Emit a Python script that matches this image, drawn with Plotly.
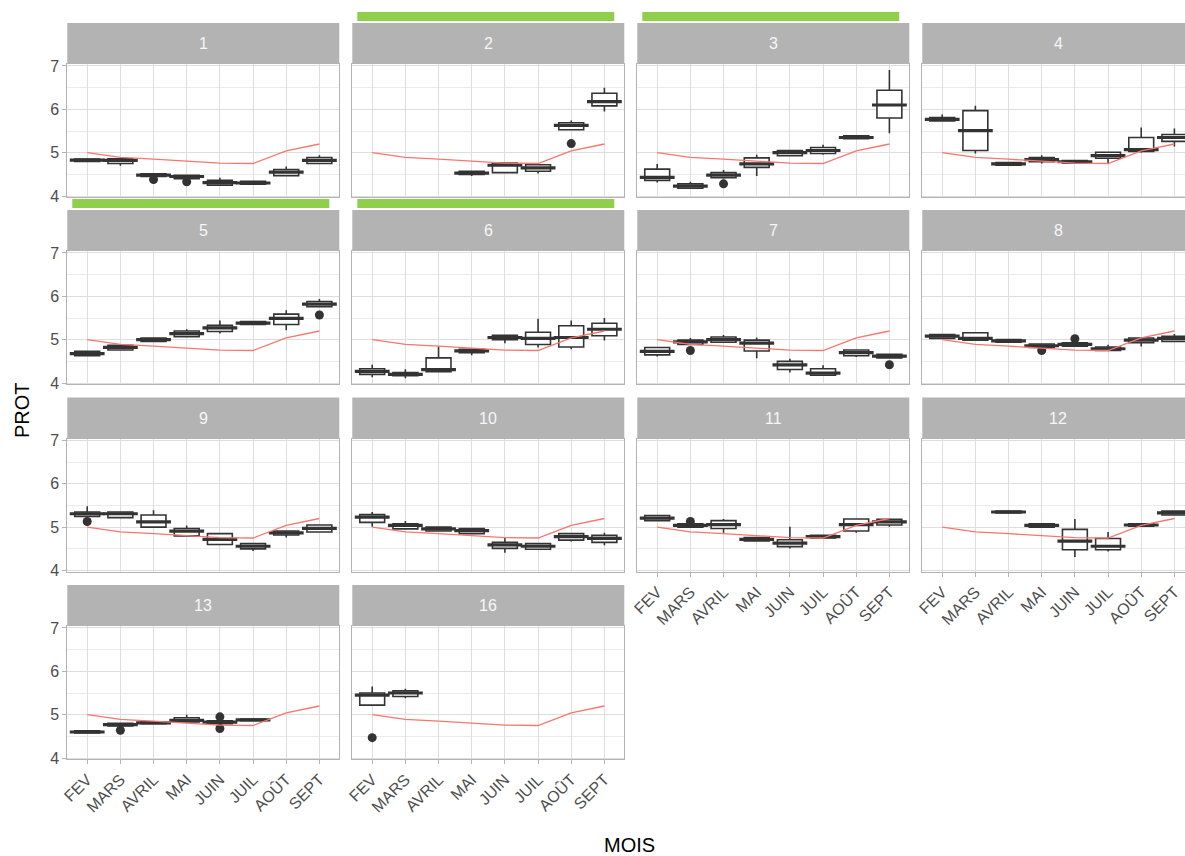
import plotly.graph_objects as go

# ---------------------------------------------------------------- data
MONTHS = ["FEV", "MARS", "AVRIL", "MAI", "JUIN", "JUIL", "AOÛT", "SEPT"]
PANELS = ["1", "2", "3", "4", "5", "6", "7", "8", "9", "10", "11", "12", "13", "16"]

# reference curve drawn in every panel
REF = [5.00, 4.89, 4.85, 4.81, 4.76, 4.75, 5.04, 5.20]

N = None
# box statistics per panel, one value per month (None = no sample)
LOWER = [
    [4.79, 4.70, 4.43, 4.38, 4.23, 4.26, 4.46, 4.74],
    [N, N, N, 4.46, 4.53, 4.52, 5.52, 5.95],
    [4.31, 4.17, 4.40, 4.46, 4.92, 4.95, 5.31, 5.45],
    [5.72, 4.98, 4.70, 4.75, 4.75, 4.74, 5.00, 5.14],
    [4.62, 4.75, 4.95, 5.06, 5.14, 5.34, 5.22, 5.75],
    [4.13, 4.11, 4.25, 4.64, 4.92, 4.82, 4.78, 4.98],
    [4.61, 4.88, 4.93, 4.57, 4.24, 4.17, 4.60, 4.57],
    [5.02, 4.97, 4.93, 4.80, 4.84, 4.74, 4.84, 4.95],
    [5.24, 5.21, 4.99, 4.79, 4.59, 4.45, 4.76, 4.88],
    [5.01, 4.95, 4.90, 4.84, 4.41, 4.48, 4.67, 4.58],
    [5.14, 4.99, 4.87, 4.67, 4.51, 4.74, 4.87, 5.01],
    [N, N, 5.33, 4.99, 4.31, 4.44, 5.01, 5.27],
    [4.57, 4.73, 4.79, 4.82, 4.78, 4.85, N, N],
    [5.20, 5.38, N, N, N, N, N, N],
]
Q1 = [
    [4.80, 4.75, 4.45, 4.40, 4.25, 4.27, 4.47, 4.75],
    [N, N, N, 4.50, 4.54, 4.57, 5.53, 6.08],
    [4.36, 4.18, 4.42, 4.66, 4.93, 4.98, 5.32, 5.80],
    [5.73, 5.05, 4.71, 4.79, 4.76, 4.87, 5.03, 5.26],
    [4.63, 4.76, 4.96, 5.07, 5.19, 5.35, 5.35, 5.76],
    [4.20, 4.17, 4.26, 4.70, 5.00, 4.89, 4.83, 5.09],
    [4.65, 4.89, 4.94, 4.74, 4.31, 4.18, 4.63, 4.58],
    [5.03, 4.99, 4.94, 4.82, 4.85, 4.75, 4.93, 4.96],
    [5.25, 5.22, 5.00, 4.80, 4.60, 4.50, 4.82, 4.89],
    [5.11, 4.96, 4.91, 4.85, 4.51, 4.49, 4.70, 4.65],
    [5.15, 5.00, 4.97, 4.68, 4.55, 4.75, 4.91, 5.05],
    [N, N, 5.33, 5.00, 4.48, 4.48, 5.02, 5.28],
    [4.58, 4.74, 4.79, 4.83, 4.79, 4.86, N, N],
    [5.22, 5.42, N, N, N, N, N, N],
]
MEDIAN = [
    [4.83, 4.82, 4.48, 4.45, 4.31, 4.30, 4.55, 4.82],
    [N, N, N, 4.53, 4.71, 4.65, 5.63, 6.18],
    [4.43, 4.23, 4.48, 4.74, 5.00, 5.05, 5.35, 6.10],
    [5.77, 5.51, 4.74, 4.84, 4.79, 4.93, 5.07, 5.35],
    [4.68, 4.82, 5.00, 5.14, 5.27, 5.38, 5.49, 5.82],
    [4.27, 4.20, 4.31, 4.74, 5.05, 5.03, 5.05, 5.24],
    [4.73, 4.95, 5.00, 4.92, 4.42, 4.23, 4.70, 4.62],
    [5.08, 5.03, 4.97, 4.86, 4.89, 4.79, 4.99, 5.03],
    [5.31, 5.31, 5.12, 4.91, 4.72, 4.56, 4.87, 4.97],
    [5.23, 5.04, 4.96, 4.92, 4.59, 4.56, 4.78, 4.74],
    [5.21, 5.04, 5.06, 4.72, 4.63, 4.78, 5.06, 5.12],
    [N, N, 5.35, 5.04, 4.68, 4.56, 5.05, 5.33],
    [4.60, 4.77, 4.81, 4.87, 4.83, 4.88, N, N],
    [5.45, 5.50, N, N, N, N, N, N],
]
Q3 = [
    [4.85, 4.86, 4.51, 4.48, 4.36, 4.34, 4.61, 4.89],
    [N, N, N, 4.57, 4.76, 4.72, 5.69, 6.37],
    [4.62, 4.28, 4.54, 4.88, 5.05, 5.12, 5.39, 6.44],
    [5.81, 5.97, 4.77, 4.89, 4.82, 5.01, 5.35, 5.42],
    [4.73, 4.87, 5.04, 5.20, 5.33, 5.42, 5.59, 5.88],
    [4.33, 4.24, 4.58, 4.78, 5.10, 5.17, 5.32, 5.38],
    [4.82, 4.99, 5.06, 4.99, 4.50, 4.33, 4.76, 4.66],
    [5.12, 5.16, 5.00, 4.90, 4.93, 4.83, 5.04, 5.08],
    [5.35, 5.35, 5.28, 4.97, 4.85, 4.62, 4.91, 5.05],
    [5.29, 5.08, 5.00, 4.97, 4.65, 4.62, 4.85, 4.81],
    [5.27, 5.08, 5.15, 4.76, 4.71, 4.81, 5.19, 5.18],
    [N, N, 5.37, 5.08, 4.95, 4.74, 5.08, 5.37],
    [4.63, 4.80, 4.83, 4.93, 4.86, 4.90, N, N],
    [5.50, 5.55, N, N, N, N, N, N],
]
UPPER = [
    [4.86, 4.88, 4.52, 4.49, 4.42, 4.35, 4.68, 4.94],
    [N, N, N, 4.58, 4.78, 4.75, 5.74, 6.50],
    [4.74, 4.33, 4.60, 4.95, 5.06, 5.18, 5.40, 6.91],
    [5.88, 6.08, 4.78, 4.94, 4.83, 5.02, 5.58, 5.56],
    [4.75, 4.88, 5.05, 5.24, 5.44, 5.43, 5.68, 5.94],
    [4.42, 4.32, 4.84, 4.79, 5.11, 5.48, 5.44, 5.50],
    [4.83, 5.04, 5.11, 5.05, 4.56, 4.41, 4.77, 4.67],
    [5.13, 5.17, 5.01, 4.91, 4.95, 4.88, 5.05, 5.13],
    [5.48, 5.37, 5.39, 5.04, 4.86, 4.63, 4.92, 5.06],
    [5.35, 5.14, 5.02, 4.98, 4.75, 4.63, 4.86, 4.87],
    [5.28, 5.09, 5.19, 4.77, 5.01, 4.82, 5.20, 5.19],
    [N, N, 5.37, 5.08, 5.19, 4.89, 5.09, 5.38],
    [4.64, 4.81, 4.84, 5.00, 4.88, 4.91, N, N],
    [5.65, 5.60, N, N, N, N, N, N],
]

# outlying observations: panel label, month, value
OUT_PANEL = ["1", "1", "2", "3", "5", "7", "7", "8", "8", "9", "11", "13", "13", "13", "16"]
OUT_MONTH = ["AVRIL", "MAI", "AOÛT", "AVRIL", "SEPT", "MARS", "SEPT", "MAI", "JUIN", "FEV",
             "MARS", "MARS", "JUIN", "JUIN", "FEV"]
OUT_VALUE = [4.38, 4.33, 5.21, 4.28, 5.57, 4.75, 4.42, 4.75, 5.02, 5.13,
             5.13, 4.64, 4.95, 4.68, 4.47]

# highlighted facets (bar drawn above the strip)
HIGHLIGHT = ["2", "3", "5", "6"]

# ---------------------------------------------------------------- layout
W, H = 1185, 856
COL_X = [67.3, 352.3, 637.3, 922.3]
PANEL_W = 272.0
ROW_Y = [23.0, 210.0, 397.5, 585.0]
STRIP_H = 41.0
PANEL_H = 133.0
PX_PER_CAT = PANEL_W / 8.2
Y_RANGE = [3.977, 7.046]

BOX_LINE = "#333333"
GRID = "#DEDEDE"
BORDER = "#B3B3B3"
TEXT = "#4D4D4D"
FONT = "Liberation Sans, Arial, sans-serif"
GREEN = "#8FCF4C"


def px_x(v):
    return v / W


def px_y(v):
    return 1 - v / H


fig = go.Figure()
layout = {}
shapes = []
annotations = []

bottom_panels = {"11", "12", "13", "16"}

for i, label in enumerate(PANELS):
    r, c = divmod(i, 4)
    x0 = COL_X[c]
    x1 = min(x0 + PANEL_W, W)
    s0 = ROW_Y[r]
    p0 = s0 + STRIP_H
    p1 = p0 + PANEL_H
    suffix = "" if i == 0 else str(i + 1)
    xa, ya = "x" + suffix, "y" + suffix

    xr = [-0.6, -0.6 + (x1 - x0) / PX_PER_CAT]
    show_x = label in bottom_panels
    show_y = c == 0

    layout["xaxis" + suffix] = dict(
        domain=[px_x(x0), px_x(x1)], anchor=ya, type="category",
        categoryorder="array", categoryarray=MONTHS, range=xr,
        automargin=False,
        showgrid=True, gridcolor=GRID, gridwidth=1,
        showline=True, mirror=True, linecolor=BORDER, linewidth=1,
        ticks="outside" if show_x else "", ticklen=4, tickcolor=BORDER,
        showticklabels=show_x, tickangle=-45,
        tickfont=dict(family=FONT, size=16, color=TEXT),
        zeroline=False, fixedrange=True,
    )
    layout["yaxis" + suffix] = dict(
        domain=[px_y(p1), px_y(p0)], anchor=xa, range=Y_RANGE,
        automargin=False,
        tickmode="linear", tick0=4, dtick=1,
        showgrid=True, gridcolor=GRID, gridwidth=1,
        minor=dict(dtick=0.5, tick0=4, showgrid=True, gridcolor="#EBEBEB", gridwidth=0.6),
        showline=True, mirror=True, linecolor=BORDER, linewidth=1,
        ticks="outside" if show_y else "", ticklen=4, tickcolor=BORDER,
        showticklabels=show_y,
        tickfont=dict(family=FONT, size=16, color=TEXT),
        zeroline=False, fixedrange=True,
    )

    # strip
    shapes.append(dict(type="rect", xref="paper", yref="paper",
                       x0=px_x(x0), x1=px_x(x1), y0=px_y(p0), y1=px_y(s0),
                       fillcolor="#B3B3B3", line=dict(width=0), layer="below"))
    annotations.append(dict(xref="paper", yref="paper",
                            x=px_x(x0 + PANEL_W / 2), y=px_y(s0 + STRIP_H / 2),
                            text=label, showarrow=False,
                            font=dict(family=FONT, size=16, color="#F7F7F7"),
                            xanchor="center", yanchor="middle"))
    if label in HIGHLIGHT:
        shapes.append(dict(type="rect", xref="paper", yref="paper",
                           x0=px_x(x0 + 5), x1=px_x(x0 + 262), y0=px_y(s0 - 2),
                           y1=px_y(s0 - 11), fillcolor=GREEN, line=dict(width=0)))

    # boxes
    idx = [k for k in range(8) if MEDIAN[i][k] is not None]
    xs = [MONTHS[k] for k in idx]
    fig.add_trace(go.Box(
        x=xs,
        lowerfence=[LOWER[i][k] for k in idx],
        q1=[Q1[i][k] for k in idx],
        median=[MEDIAN[i][k] for k in idx],
        q3=[Q3[i][k] for k in idx],
        upperfence=[UPPER[i][k] for k in idx],
        width=0.75, whiskerwidth=0, boxpoints=False,
        fillcolor="white", line=dict(color=BOX_LINE, width=1.6),
        xaxis=xa, yaxis=ya, showlegend=False, hoverinfo="skip",
    ))
    # heavier median bar
    fig.add_trace(go.Scatter(
        x=xs, y=[MEDIAN[i][k] for k in idx], mode="markers",
        marker=dict(symbol="line-ew", size=0.75 * PX_PER_CAT,
                    line=dict(color=BOX_LINE, width=3.2)),
        xaxis=xa, yaxis=ya, showlegend=False, hoverinfo="skip",
    ))
    # outliers
    ox = [m for p, m in zip(OUT_PANEL, OUT_MONTH) if p == label]
    oy = [v for p, v in zip(OUT_PANEL, OUT_VALUE) if p == label]
    if ox:
        fig.add_trace(go.Scatter(
            x=ox, y=oy, mode="markers",
            marker=dict(symbol="circle", size=9, color=BOX_LINE),
            xaxis=xa, yaxis=ya, showlegend=False, hoverinfo="skip",
        ))
    # reference curve
    fig.add_trace(go.Scatter(
        x=MONTHS, y=REF, mode="lines",
        line=dict(color="#F8766D", width=1.3),
        xaxis=xa, yaxis=ya, showlegend=False, hoverinfo="skip",
    ))

# axis titles
annotations.append(dict(xref="paper", yref="paper", x=px_x(22), y=px_y(410),
                        text="PROT", textangle=-90, showarrow=False,
                        font=dict(family=FONT, size=20, color="black"),
                        xanchor="center", yanchor="middle"))
annotations.append(dict(xref="paper", yref="paper", x=px_x(630), y=px_y(845),
                        text="MOIS", showarrow=False,
                        font=dict(family=FONT, size=20, color="black"),
                        xanchor="center", yanchor="middle"))

fig.update_layout(
    template="none",
    width=W, height=H, margin=dict(l=0, r=0, t=0, b=0, autoexpand=False),
    paper_bgcolor="white", plot_bgcolor="white",
    shapes=shapes, annotations=annotations, showlegend=False,
    **layout,
)

fig.write_html("out.html", config={"displayModeBar": False})
